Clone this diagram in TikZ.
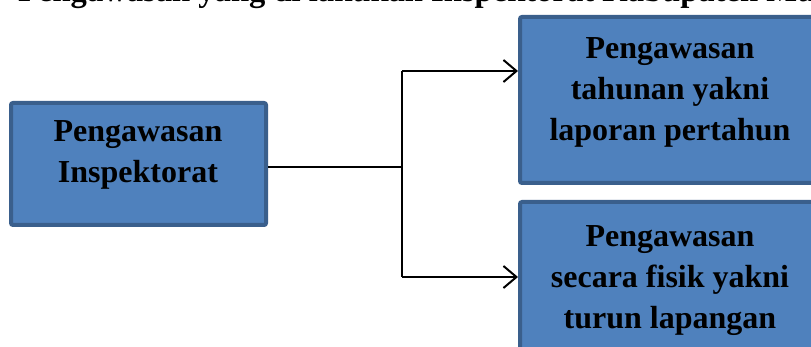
\documentclass[tikz,border=0pt]{standalone}
\usepackage{fontspec}
\setmainfont{Liberation Serif}
\usetikzlibrary{arrows.meta}
\definecolor{boxfill}{HTML}{4F81BD}
\definecolor{boxedge}{HTML}{3A5F8C}
\tikzset{
  bluebox/.style={draw=boxedge, line width=4pt, fill=boxfill, rounded corners=2pt, inner sep=0pt},
  boxtext/.style={align=center, font=\bfseries\fontsize{32}{41}\selectfont, inner sep=0pt},
  conn/.style={line width=2pt, black},
  arr/.style={conn, -{Straight Barb[length=13pt,width=22pt,line width=2pt]}}
}
\begin{document}
\begin{tikzpicture}[x=1pt,y=-1pt]
\clip (0,0) rectangle (811,347);
\fill[white] (0,0) rectangle (811,347);
\node[anchor=base west, font=\bfseries\fontsize{32.6}{38}\selectfont, inner sep=0pt] (title) at (18,2) {Pengawasan yang di lakukan Inspektorat Kabupaten Mu};
\node[bluebox, minimum width=255pt, minimum height=122pt] (left) at (138.5,164) {};
\node[bluebox, minimum width=300pt, minimum height=166pt] (top) at (670,100) {};
\node[bluebox, minimum width=300pt, minimum height=150pt] (bot) at (670,277) {};
\node[boxtext] (lefttxt) at (138,155) {Pengawasan\\Inspektorat};
\node[boxtext] (toptxt) at (670,92) {Pengawasan\\tahunan yakni\\laporan pertahun};
\node[boxtext] (bottxt) at (670,281) {Pengawasan\\secara fisik yakni\\turun lapangan};
\coordinate (j) at (402,167);
\coordinate (jt) at (402,71);
\coordinate (jb) at (402,277);
\draw[conn] (left.east |- j) -- (j);
\draw[conn] (jt) -- (jb);
\draw[arr] (jt) -- (jt -| top.west);
\draw[arr] (jb) -- (jb -| bot.west);
\end{tikzpicture}
\end{document}
